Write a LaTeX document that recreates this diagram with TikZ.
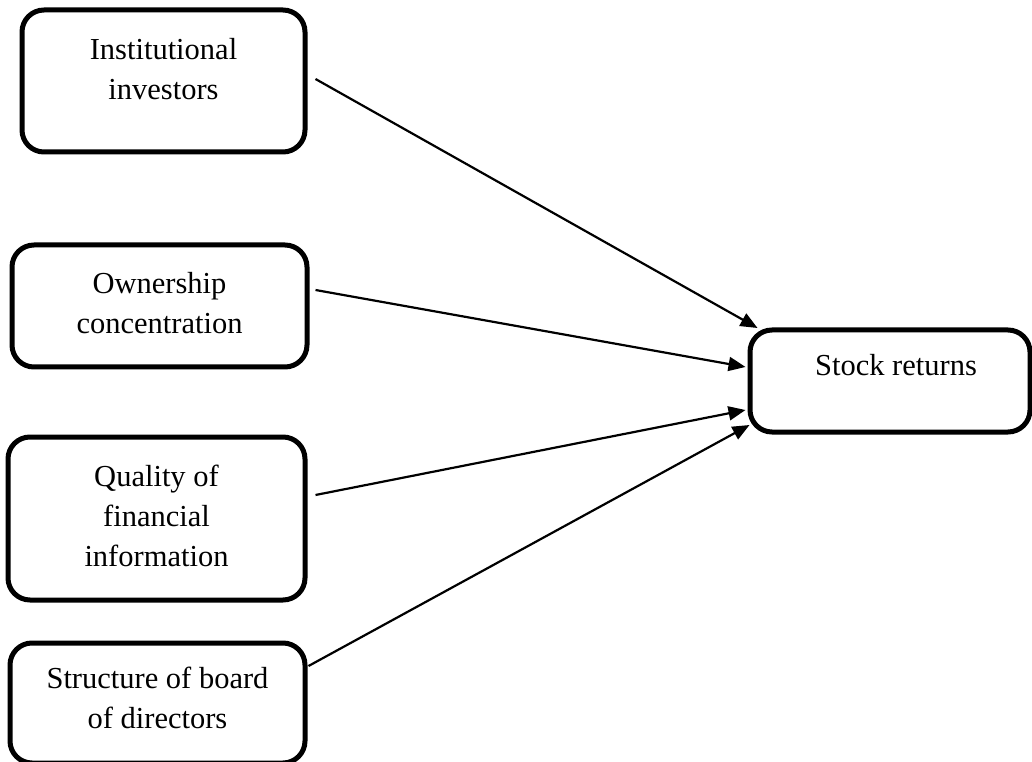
\documentclass[tikz,border=0pt]{standalone}
\usepackage{fontspec}
\setmainfont{Liberation Serif}
\usetikzlibrary{arrows.meta, positioning, calc}

\begin{document}
\begin{tikzpicture}[
    x=1pt, y=1pt,
    box/.style={draw, line width=5pt, rounded corners=22pt},
    boxtext/.style={font=\fontsize{30.5}{40}\selectfont, align=center},
    arrow/.style={-{Triangle[length=17pt, width=14pt]}, line width=2.2pt}
]
    \useasboundingbox (0,0) rectangle (1032,761);

    % Institutional investors
    \node[box, minimum width=283pt, minimum height=142pt,
          label={[boxtext, yshift=12pt]center:Institutional\\investors}] (inst) at (163.5,680) {};

    % Ownership concentration
    \node[box, minimum width=295pt, minimum height=122pt,
          label={[boxtext, yshift=3pt]center:Ownership\\concentration}] (own) at (159.5,455) {};

    % Quality of financial information
    \node[box, minimum width=297pt, minimum height=163pt,
          label={[boxtext, yshift=3pt]center:Quality of\\financial\\information}] (qual) at (156.5,242.5) {};

    % Structure of board of directors
    \node[box, minimum width=295pt, minimum height=120pt,
          label={[boxtext, yshift=5pt]center:Structure of board\\of directors}] (board) at (157.5,58) {};

    % Stock returns
    \node[box, minimum width=280pt, minimum height=102pt,
          label={[boxtext, xshift=6pt, yshift=16pt]center:Stock returns}] (stock) at (890,380) {};

    % Arrows
    \draw[arrow] ($(inst.east)+(8,2)$) -- ($(stock.west)+(10,53)$);
    \draw[arrow] ($(own.east)+(6,16)$) -- ($(stock.west)+(-2,14)$);
    \draw[arrow] ($(qual.east)+(8,23.5)$) -- ($(stock.west)+(-2,-29)$);
    \draw[arrow] ($(board.east)+(1,37)$) -- ($(stock.west)+(2,-44)$);
\end{tikzpicture}
\end{document}
